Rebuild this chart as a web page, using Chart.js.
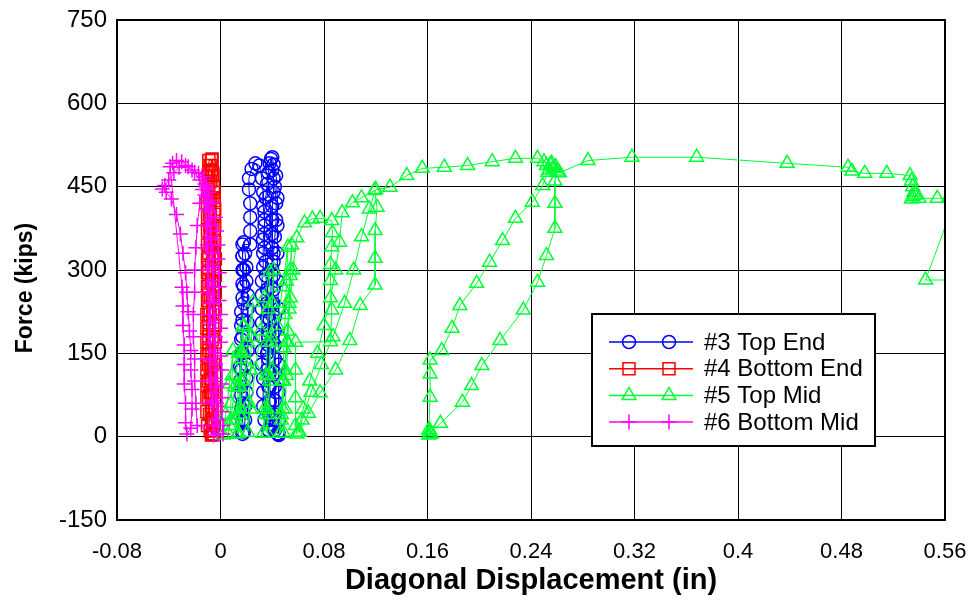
<!DOCTYPE html>
<html>
<head>
<meta charset="utf-8">
<script src="https://cdn.jsdelivr.net/npm/chart.js@4.4.1/dist/chart.umd.min.js"></script>
<style>
  html, body { margin: 0; padding: 0; background: #fff; }
  #wrap { width: 977px; height: 600px; }
</style>
</head>
<body>
<div id="wrap"><canvas id="chart" width="977" height="600"></canvas></div>
<script>
// ----------------------------------------
// Gauge readings: diagonal displacement (in) vs. applied force (kips)
// ----------------------------------------

// #3 Top End
const topEndDisp = [
  0.017, 0.017, 0.016, 0.016, 0.015, 0.015, 0.016, 0.016, 0.016, 0.016, 0.017, 0.017, 0.017, 0.017, 0.018,
  0.019, 0.020, 0.020, 0.021, 0.021, 0.021, 0.021, 0.021, 0.020, 0.020, 0.020, 0.019, 0.019, 0.018,
  0.017, 0.017, 0.016, 0.016, 0.017, 0.017, 0.017, 0.018, 0.018, 0.018, 0.017, 0.017,
  0.023, 0.023, 0.023, 0.023, 0.022, 0.022, 0.024, 0.027, 0.030,
  0.032, 0.033, 0.033, 0.034, 0.034, 0.034, 0.035, 0.035, 0.036, 0.036, 0.036, 0.037, 0.037, 0.037,
  0.038, 0.038, 0.038, 0.038, 0.037,
  0.034, 0.033, 0.033, 0.033, 0.032, 0.032, 0.032, 0.032, 0.032, 0.032, 0.032, 0.033, 0.033, 0.033,
  0.034, 0.034, 0.035, 0.036, 0.037, 0.038, 0.040, 0.041,
  0.041, 0.041, 0.040, 0.040, 0.040, 0.040, 0.041, 0.041, 0.041, 0.041, 0.042, 0.042, 0.042, 0.042,
  0.042, 0.042, 0.042, 0.042, 0.042, 0.044,
  0.040, 0.038, 0.037, 0.036, 0.036, 0.037, 0.038, 0.039, 0.039, 0.040, 0.041, 0.042, 0.043, 0.043,
  0.042, 0.040, 0.039, 0.043, 0.044, 0.044, 0.044, 0.044, 0.045, 0.045, 0.045, 0.045, 0.045, 0.045, 0.045
];
const topEndForce = [
  5, 25, 50, 75, 100, 125, 150, 175, 200, 225, 250, 275, 300, 325, 350,
  330, 305, 280, 255, 230, 205, 180, 155, 130, 105, 80, 55, 30, 8,
  30, 60, 90, 120, 150, 180, 210, 240, 270, 300, 325, 346,
  346, 370, 395, 420, 445, 465, 482, 492, 488,
  465, 440, 415, 390, 365, 340, 315, 290, 265, 240, 215, 190, 165, 140,
  115, 90, 65, 40, 12,
  30, 55, 80, 105, 130, 155, 180, 205, 230, 255, 280, 305, 330, 355,
  380, 405, 430, 455, 475, 492, 503, 490,
  465, 440, 415, 390, 365, 340, 315, 290, 265, 240, 215, 190, 165, 140,
  115, 90, 65, 40, 12, 6,
  30, 60, 90, 120, 150, 180, 210, 240, 270, 300, 330, 360, 390, 420,
  450, 480, 500, 470, 430, 380, 330, 280, 230, 180, 130, 80, 30, 5, 3
];

// #4 Bottom End
const bottomEndDisp = [
  -0.006, -0.007, -0.007, -0.008, -0.008, -0.008, -0.009, -0.009, -0.009, -0.009, -0.009,
  -0.009, -0.009, -0.009, -0.008, -0.008, -0.008, -0.008, -0.009, -0.009, -0.009,
  -0.007, -0.006, -0.0055, -0.005, -0.005, -0.005, -0.005, -0.005, -0.0055, -0.006, -0.006,
  -0.006, -0.006, -0.0065, -0.007, -0.007, -0.007, -0.007, -0.0065, -0.006, -0.005,
  -0.010, -0.0105, -0.0105, -0.0105, -0.0105, -0.0105, -0.0105, -0.0105, -0.0105, -0.010, -0.010,
  -0.010, -0.010, -0.010, -0.010, -0.010, -0.010, -0.010, -0.0095, -0.008, -0.0065,
  -0.006, -0.005, -0.0045, -0.0045, -0.0045, -0.004, -0.004, -0.004, -0.004, -0.004, -0.004,
  -0.004, -0.004, -0.0045, -0.0045, -0.005, -0.0055,
  -0.008, -0.0085, -0.009, -0.0095, -0.0095, -0.009, -0.0085, -0.008, -0.0075, -0.007, -0.007,
  -0.0075, -0.008, -0.0085, -0.008, -0.0075, -0.007, -0.0065, -0.0065, -0.006, -0.006, -0.0055,
  -0.0055, -0.0055, -0.006, -0.0065, -0.007
];
const bottomEndForce = [
  5, 30, 55, 80, 105, 130, 155, 180, 205, 230, 255,
  280, 305, 330, 355, 380, 405, 430, 455, 478, 497,
  498, 475, 450, 425, 400, 375, 350, 325, 300, 275, 250,
  225, 200, 175, 150, 125, 100, 75, 50, 25, 5,
  20, 45, 70, 95, 120, 145, 170, 195, 220, 245, 270,
  295, 320, 345, 370, 395, 420, 445, 470, 488, 500,
  470, 440, 410, 380, 350, 320, 290, 260, 230, 200, 170,
  140, 110, 80, 50, 20, 4,
  10, 40, 70, 100, 130, 160, 190, 220, 250, 280, 310,
  340, 370, 400, 430, 460, 480, 430, 380, 330, 280, 230,
  180, 130, 80, 30, 3
];

// #5 Top Mid
const topMidDisp = [
  0.002, 0.004, 0.007, 0.0097, 0.009, 0.008, 0.007, 0.006,
  0.008, 0.011, 0.014, 0.0174, 0.016, 0.015, 0.014, 0.013,
  0.012, 0.014, 0.016, 0.018, 0.017, 0.016, 0.015, 0.014,
  0.015, 0.018, 0.021, 0.025, 0.024, 0.023, 0.022, 0.021,
  0.023, 0.027, 0.031, 0.034, 0.038, 0.037, 0.036, 0.035, 0.034, 0.033,
  0.035, 0.037, 0.039, 0.040, 0.041, 0.040, 0.039, 0.038, 0.037, 0.036,
  0.036, 0.040, 0.044, 0.048, 0.052, 0.051, 0.050, 0.049, 0.048, 0.047, 0.046,
  0.047, 0.049, 0.051, 0.053, 0.054, 0.055, 0.054, 0.053, 0.052, 0.051, 0.050, 0.049,
  0.048, 0.050, 0.052, 0.054, 0.056, 0.059, 0.065, 0.071, 0.077, 0.086, 0.0865, 0.086, 0.085, 0.085,
  0.086, 0.085, 0.058, 0.058, 0.058, 0.058, 0.059,
  0.060, 0.064, 0.069, 0.075, 0.080, 0.085, 0.089, 0.092, 0.094, 0.102, 0.109, 0.119,
  0.121, 0.1195, 0.1195, 0.1195, 0.108, 0.100, 0.089, 0.077, 0.068, 0.061,
  0.063, 0.070, 0.078, 0.087, 0.096, 0.103, 0.109, 0.115, 0.120, 0.131, 0.144, 0.156, 0.173, 0.191,
  0.210, 0.228, 0.245, 0.250, 0.255, 0.257, 0.260, 0.2585, 0.2585, 0.2585, 0.252, 0.245, 0.234,
  0.216, 0.202, 0.194, 0.187, 0.170, 0.162, 0.161, 0.162, 0.163, 0.161,
  0.162, 0.162, 0.162, 0.171, 0.179, 0.185, 0.198, 0.208, 0.218, 0.228, 0.241, 0.249, 0.253,
  0.252, 0.256, 0.259, 0.254, 0.258, 0.262, 0.284, 0.318, 0.368, 0.438, 0.485, 0.488, 0.498,
  0.515, 0.533, 0.534, 0.535, 0.536, 0.535, 0.534, 0.537, 0.540, 0.554, 0.5625, 0.570, 0.545, 0.580
];
const topMidForce = [
  3, 40, 95, 155, 110, 60, 20, 5,
  30, 90, 150, 197, 140, 90, 40, 5,
  30, 90, 150, 200, 150, 100, 50, 6,
  40, 100, 170, 242, 180, 120, 60, 8,
  50, 120, 190, 250, 296, 230, 170, 110, 50, 6,
  40, 110, 180, 240, 300, 240, 170, 100, 40, 6,
  50, 120, 200, 270, 341, 280, 220, 160, 100, 40, 6,
  30, 100, 170, 240, 300, 345, 290, 230, 170, 110, 50, 6,
  50, 120, 190, 250, 300, 358, 385, 392, 393, 389, 367, 342, 310, 281,
  228, 171, 170, 120, 70, 20, 5,
  8, 50, 100, 150, 200, 250, 300, 350, 403, 421, 430, 443,
  413, 371, 321, 273, 236, 173, 120, 79, 42, 8,
  30, 80, 130, 180, 240, 300, 360, 410, 445, 449, 470, 483, 485, 488,
  495, 501, 501, 495, 490, 483, 478, 460, 420, 375, 326, 278, 228,
  173, 128, 92, 62, 24, 6, 3, 10, 5, 12,
  71, 113, 138, 155, 195, 236, 276, 314, 353, 393, 422, 452, 476,
  488, 492, 486, 480, 483, 475, 497, 503, 503, 492, 485, 478, 474,
  474, 470, 460, 450, 440, 432, 428, 435, 429, 429, 429, 440, 282, 282
];

// #6 Bottom Mid
const bottomMidDisp = [
  -0.002, -0.003, -0.003, -0.004, -0.004, -0.004, -0.005, -0.005, -0.005, -0.005,
  -0.006, -0.006, -0.006, -0.006, -0.007, -0.007, -0.008, -0.009, -0.010, -0.012,
  -0.009, -0.006, -0.004, -0.003, -0.002, -0.002, -0.001, -0.001, -0.001, 0.000,
  0.000, 0.000, 0.000, 0.001, 0.001, 0.001, 0.001, 0.002, 0.002,
  -0.004, -0.006, -0.007, -0.008, -0.008, -0.008, -0.008, -0.009, -0.009, -0.010,
  -0.010, -0.011, -0.012, -0.016, -0.020, -0.025, -0.030, -0.034, -0.037, -0.039,
  -0.0297, -0.029, -0.029, -0.028, -0.028, -0.028, -0.027, -0.027, -0.026,
  -0.023, -0.022, -0.022, -0.023, -0.023, -0.024, -0.025, -0.026, -0.027, -0.029,
  -0.031, -0.034, -0.038, -0.042, -0.045, -0.043, -0.040, -0.036, -0.032, -0.027,
  -0.022, -0.017, -0.013, -0.011, -0.010, -0.009, -0.008, -0.007, -0.006, -0.005,
  -0.005, -0.004, -0.004, -0.004, -0.003, -0.003, -0.003, -0.002, -0.002,
  -0.018, -0.019, -0.020, -0.020, -0.021, -0.021, -0.020, -0.020, -0.019, -0.018,
  -0.016, -0.014, -0.012, -0.011, -0.011, -0.010, -0.010, -0.009, -0.009, -0.008,
  -0.008, -0.007, -0.006, -0.005
];
const bottomMidForce = [
  5, 30, 55, 80, 105, 130, 155, 180, 205, 230,
  255, 280, 305, 330, 355, 380, 405, 425, 445, 455,
  440, 420, 395, 370, 345, 320, 295, 270, 245, 220,
  195, 170, 145, 120, 95, 70, 45, 20, 5,
  30, 65, 100, 135, 170, 205, 240, 275, 310, 345,
  380, 410, 435, 462, 476, 486, 495, 497, 492, 486,
  269, 235, 200, 165, 130, 95, 60, 25, 5,
  15, 50, 85, 120, 155, 190, 225, 260, 295, 330,
  365, 400, 428, 440, 446, 452, 462, 475, 485, 488,
  480, 474, 468, 450, 420, 390, 360, 330, 300, 270,
  240, 210, 180, 150, 120, 90, 60, 30, 5,
  20, 60, 100, 140, 180, 220, 260, 300, 340, 380,
  420, 445, 420, 380, 340, 300, 260, 220, 180, 140,
  100, 60, 20, 3
];

const gaugeLabels = ['#3 Top End', '#4 Bottom End', '#5 Top Mid', '#6 Bottom Mid'];

const xTicks = { min: -0.08, max: 0.56, step: 0.08 };
const yTicks = { min: -150, max: 750, step: 150 };

// ----------------------------------------
// Series styling
// ----------------------------------------
const SERIES_STYLE = [
  { color: '#0000ff', pointStyle: 'circle',   radius: 6.5, order: 3 },
  { color: '#ff0000', pointStyle: 'rect',     radius: 8.5, order: 2 },
  { color: '#00ff33', pointStyle: 'triangle', radius: 8,   order: 1 },
  { color: '#ff00ff', pointStyle: 'cross',    radius: 7.5, order: 0 }
];

const FONT = '"Liberation Sans", Arial, sans-serif';

function toPoints(xs, ys) {
  return xs.map((x, i) => ({ x: x, y: ys[i] }));
}

function createDatasets() {
  const series = [
    toPoints(topEndDisp, topEndForce),
    toPoints(bottomEndDisp, bottomEndForce),
    toPoints(topMidDisp, topMidForce),
    toPoints(bottomMidDisp, bottomMidForce)
  ];
  return series.map((data, i) => {
    const s = SERIES_STYLE[i];
    return {
      label: gaugeLabels[i],
      data: data,
      showLine: true,
      tension: 0,
      borderColor: s.color,
      borderWidth: 1,
      pointStyle: s.pointStyle,
      pointRadius: s.radius,
      pointBorderWidth: 1.5,
      pointBorderColor: s.color,
      pointBackgroundColor: 'rgba(0,0,0,0)',
      clip: 0,
      order: s.order
    };
  });
}

// simple marker painter for the boxed legend
function paintMarker(ctx, style, r, x, y) {
  ctx.beginPath();
  if (style === 'circle') {
    ctx.arc(x, y, r, 0, Math.PI * 2);
  } else if (style === 'rect') {
    const h = r * Math.SQRT1_2;
    ctx.rect(x - h, y - h, 2 * h, 2 * h);
  } else if (style === 'triangle') {
    for (let k = 0; k < 3; k++) {
      const a = k * 2 * Math.PI / 3;
      const px = x + Math.sin(a) * r;
      const py = y - Math.cos(a) * r;
      if (k === 0) ctx.moveTo(px, py); else ctx.lineTo(px, py);
    }
    ctx.closePath();
  } else if (style === 'cross') {
    ctx.moveTo(x, y - r); ctx.lineTo(x, y + r);
    ctx.moveTo(x - r, y); ctx.lineTo(x + r, y);
  }
  ctx.stroke();
}

// Plot frame, rotated y-axis title and boxed legend
const frameLegendPlugin = {
  id: 'frameLegend',
  afterDatasetsDraw(chart) {
    const ctx = chart.ctx;
    const a = chart.chartArea;
    ctx.save();
    ctx.strokeStyle = '#000';
    ctx.lineWidth = 2;
    ctx.strokeRect(a.left, a.top, a.right - a.left, a.bottom - a.top);

    // y-axis title
    ctx.save();
    ctx.translate(26, 288);
    ctx.rotate(-Math.PI / 2);
    ctx.fillStyle = '#000';
    ctx.font = 'bold 23px ' + FONT;
    ctx.textAlign = 'center';
    ctx.textBaseline = 'middle';
    ctx.fillText('Force (kips)', 0, 0);
    ctx.restore();

    const box = { x: 592, y: 314, w: 283, h: 132 };
    ctx.fillStyle = '#fff';
    ctx.fillRect(box.x, box.y, box.w, box.h);
    ctx.strokeRect(box.x, box.y, box.w, box.h);

    ctx.font = '24px ' + FONT;
    ctx.textBaseline = 'middle';
    chart.data.datasets.forEach((ds, i) => {
      const s = SERIES_STYLE[i];
      const y = box.y + 28 + i * 26.7;
      ctx.strokeStyle = s.color;
      ctx.lineWidth = 1.5;
      ctx.beginPath();
      ctx.moveTo(box.x + 17, y);
      ctx.lineTo(box.x + 101, y);
      ctx.stroke();
      paintMarker(ctx, s.pointStyle, s.radius, box.x + 37, y);
      paintMarker(ctx, s.pointStyle, s.radius, box.x + 77, y);
      ctx.fillStyle = '#000';
      ctx.fillText(ds.label, box.x + 112, y + 1);
    });
    ctx.restore();
  }
};

function fmtTick(v) {
  return String(+Number(v).toFixed(2));
}

new Chart(document.getElementById('chart').getContext('2d'), {
  type: 'scatter',
  data: { datasets: createDatasets() },
  options: {
    responsive: false,
    animation: false,
    layout: { padding: { left: 0, top: 20, right: 32, bottom: 0 } },
    plugins: {
      legend: { display: false },
      tooltip: { enabled: false }
    },
    scales: {
      x: {
        type: 'linear',
        min: xTicks.min,
        max: xTicks.max,
        afterFit(scale) {
          scale.height = 80;
          scale.paddingLeft = 0;
          scale.paddingRight = 0;
        },
        grid: { color: '#000', lineWidth: 1, drawTicks: false },
        border: { color: '#000', width: 2 },
        ticks: {
          stepSize: xTicks.step,
          padding: 19,
          color: '#000',
          font: { family: FONT, size: 22 },
          maxRotation: 0,
          callback: fmtTick
        },
        title: {
          display: true,
          text: 'Diagonal Displacement (in)',
          color: '#000',
          font: { family: FONT, size: 29, weight: 'bold' },
          padding: { top: 0, bottom: 2 }
        }
      },
      y: {
        type: 'linear',
        min: yTicks.min,
        max: yTicks.max,
        afterFit(scale) {
          scale.width = 117;
          scale.paddingTop = 0;
          scale.paddingBottom = 0;
        },
        grid: { color: '#000', lineWidth: 1, drawTicks: false },
        border: { color: '#000', width: 2 },
        ticks: {
          stepSize: yTicks.step,
          padding: 10,
          color: '#000',
          font: { family: FONT, size: 24 },
          callback: fmtTick
        }
      }
    }
  },
  plugins: [frameLegendPlugin]
});
</script>
</body>
</html>
